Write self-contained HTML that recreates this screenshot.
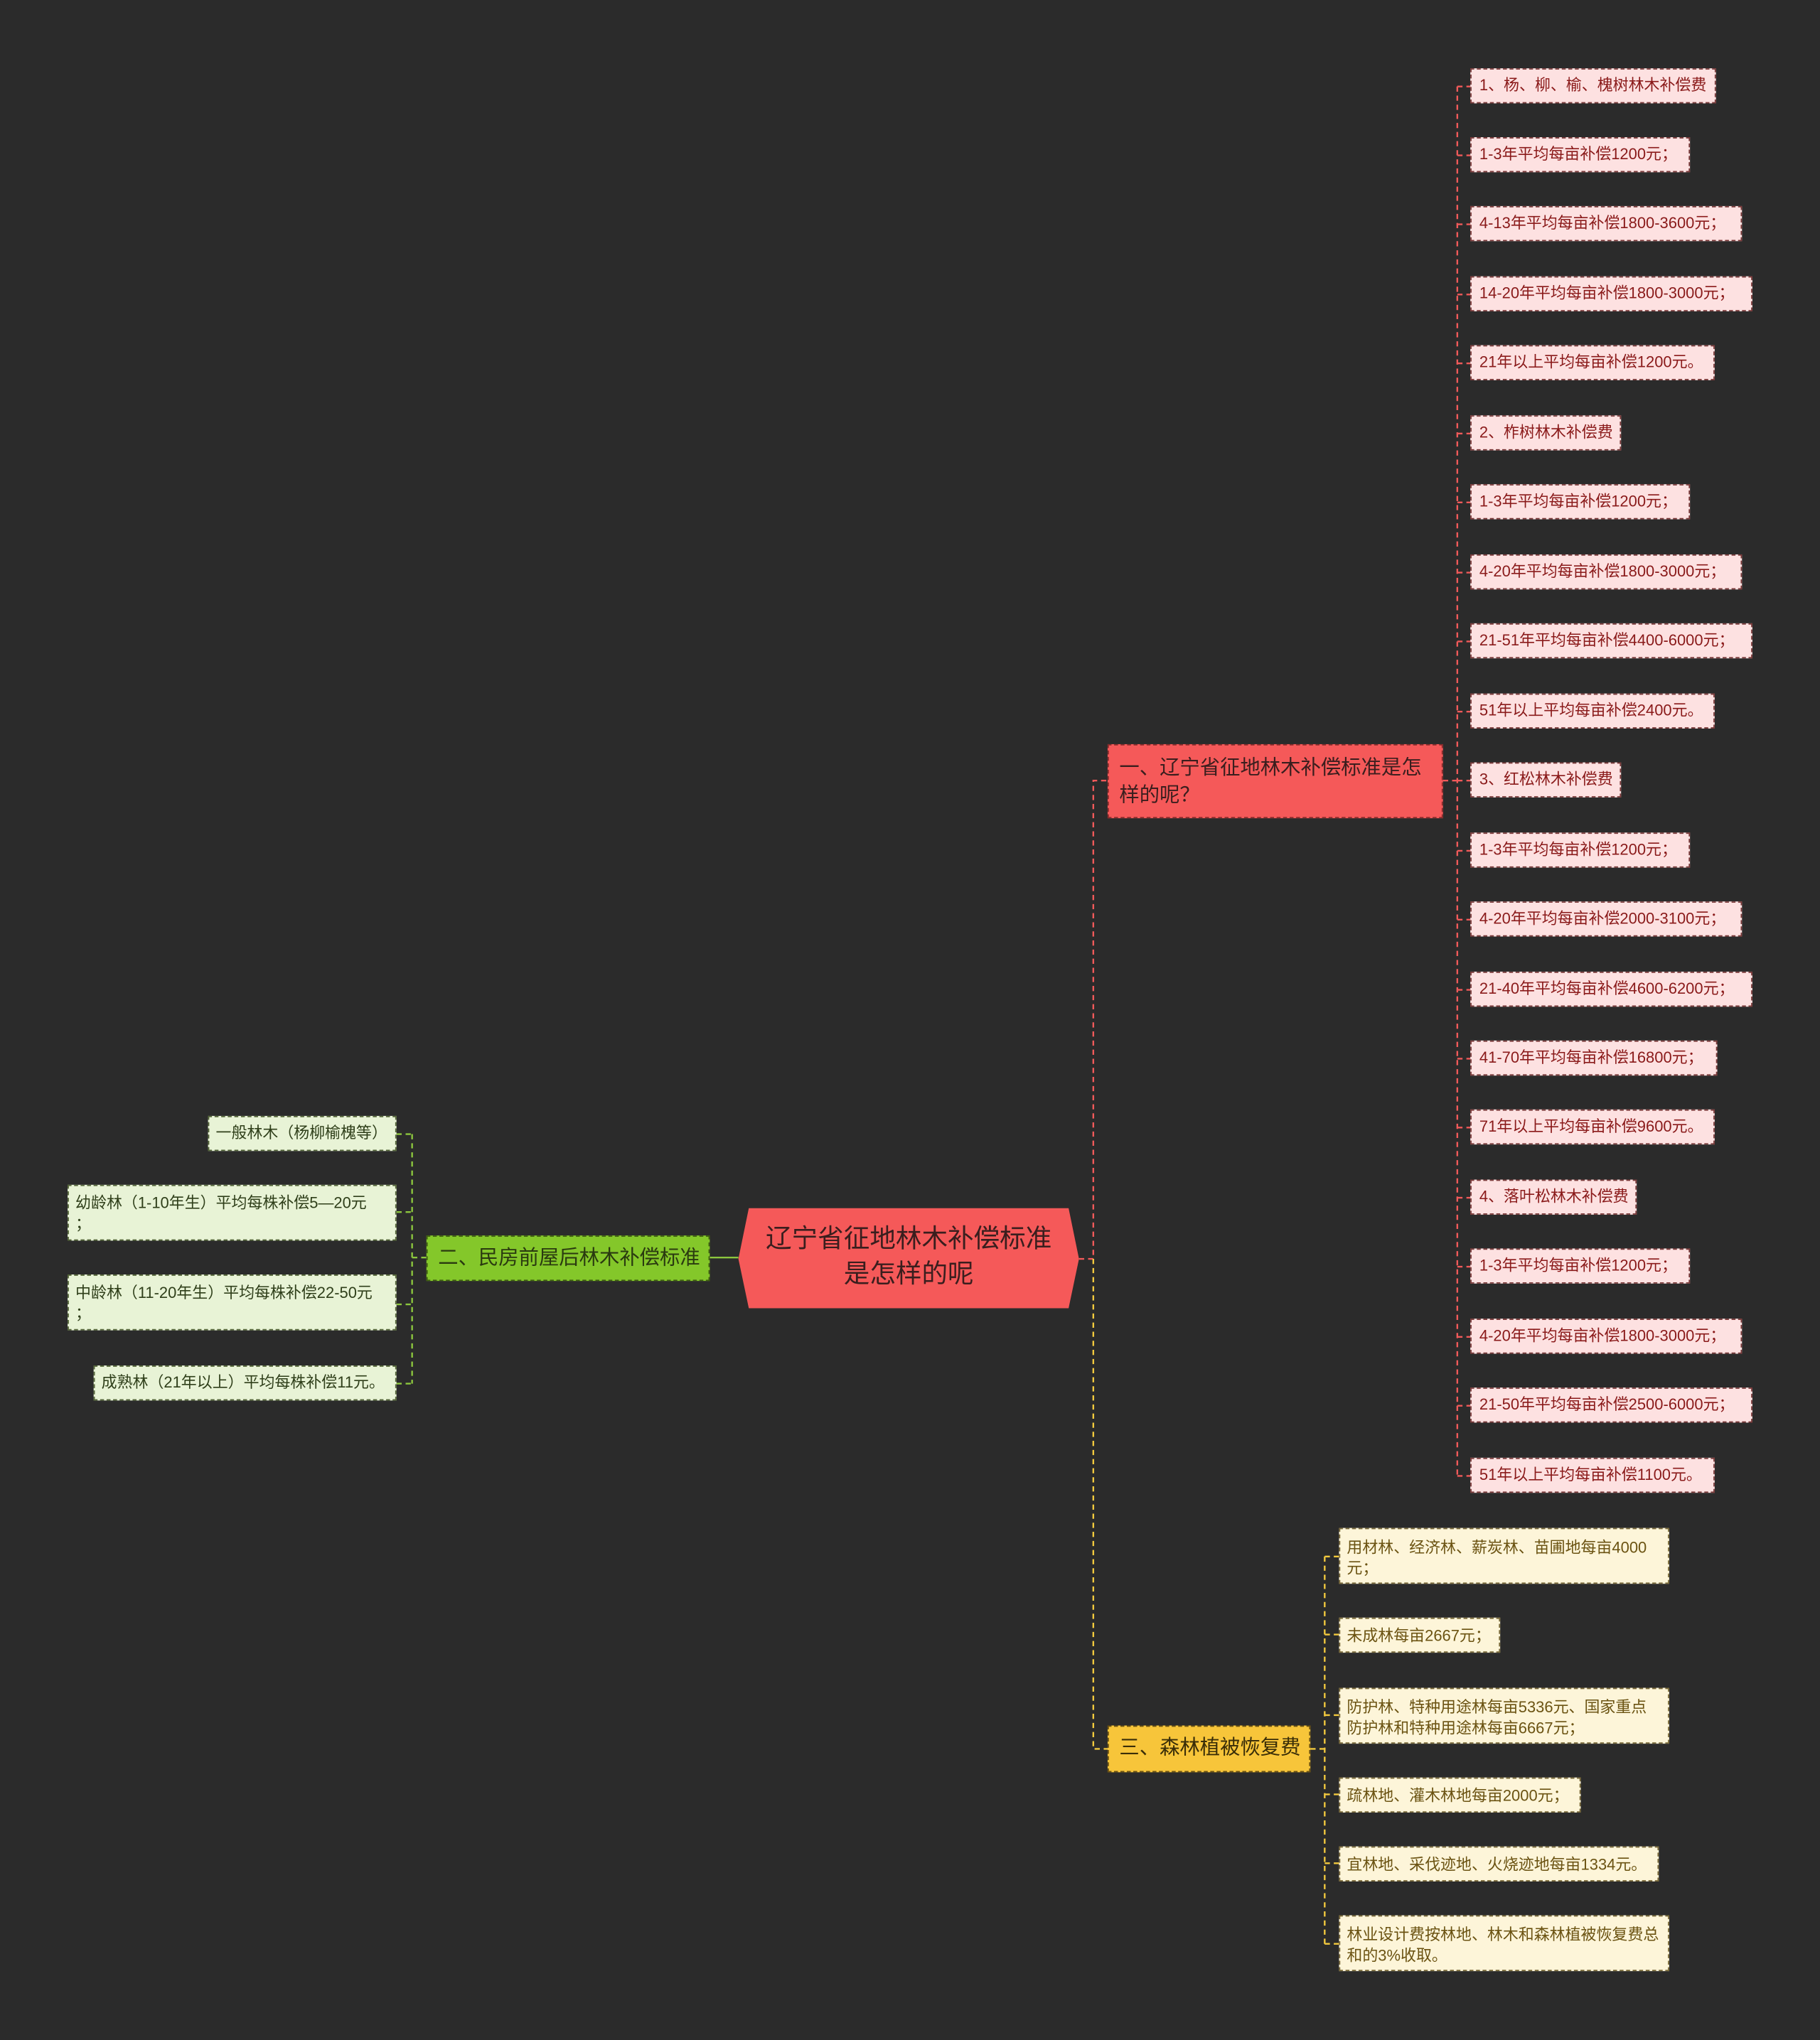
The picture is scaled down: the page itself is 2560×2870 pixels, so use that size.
<!DOCTYPE html>
<html><head><meta charset="utf-8"><style>
html,body{margin:0;padding:0;background:#2b2b2b;}
body{width:2560px;height:2868px;overflow:hidden;}
#c{position:absolute;left:0;top:1px;width:1400px;height:1569px;transform:scale(1.828571);transform-origin:0 0;font-family:"Liberation Sans","Noto Sans CJK SC",sans-serif;}
.n{position:absolute;box-sizing:border-box;white-space:nowrap;overflow:hidden;}
.r{background:#fde1e1;border:1px dashed #7a3a3a;color:#8a1a1a;font-size:12px;height:27px;line-height:25px;padding-left:6px;}
.y{background:#fdf5d9;border:1px dashed #7a6a3a;color:#6b5312;font-size:12px;line-height:16px;padding:6px 5px;}
.g{background:#e8f3d6;border:1px dashed #55663a;color:#2f3f1a;font-size:12px;line-height:16px;padding:5px 5px;}
svg{position:absolute;left:0;top:0;}
</style></head><body><div id="c">
<svg width="1400" height="1569" fill="none">
<g stroke="#f05a5a" stroke-width="1.3" stroke-dasharray="4,3">
<path d="M830 968 H841 V600 H852"/>
<path d="M1110 600 H1121"/>
<path d="M1121 66 V1135"/>
<path d="M1121 66H1131M1121 119H1131M1121 172H1131M1121 226H1131M1121 279H1131M1121 333H1131M1121 386H1131M1121 440H1131M1121 493H1131M1121 547H1131M1121 600H1131M1121 654H1131M1121 707H1131M1121 761H1131M1121 814H1131M1121 867H1131M1121 921H1131M1121 974H1131M1121 1028H1131M1121 1081H1131M1121 1135H1131"/>
</g>
<g stroke="#f2c93e" stroke-width="1.3" stroke-dasharray="4,3">
<path d="M841 968 V1345 H852"/>
<path d="M1008 1345 H1019"/>
<path d="M1019 1197 V1495"/>
<path d="M1019 1197H1030M1019 1257H1030M1019 1319H1030M1019 1380H1030M1019 1433H1030M1019 1495H1030"/>
</g>
<g stroke="#8cc63e" stroke-width="1.3" stroke-dasharray="4,3">
<path d="M546 967 H568" stroke-dasharray="none"/>
<path d="M317 967 H328"/>
<path d="M317 872 V1064"/>
<path d="M305 872H317M305 932H317M305 1003H317M305 1064H317"/>
</g>
<polygon points="576,929 822,929 830,968 822,1006 576,1006 568,968" fill="#f55959"/>
</svg>
<div class="n" style="left:568px;top:940px;width:262px;text-align:center;font-size:20px;line-height:27px;color:#3a1e1e;white-space:normal;padding:0 14px;">辽宁省征地林木补偿标准是怎样的呢</div>

<div class="n" style="left:852px;top:572px;width:258px;height:57px;background:#f55959;border:1px dashed #8a2a2a;color:#3a1e1e;font-size:15.5px;line-height:21px;padding:7px 8px;white-space:normal;">一、辽宁省征地林木补偿标准是怎样的呢？</div>
<div class="n" style="left:328px;top:950px;width:218px;height:35px;background:#84c72a;border:1px dashed #3f5f10;color:#2a3a10;font-size:15.5px;line-height:33px;padding-left:8px;">二、民房前屋后林木补偿标准</div>
<div class="n" style="left:852px;top:1327px;width:156px;height:36px;background:#f7c53a;border:1px dashed #6a5010;color:#3a2e08;font-size:15.5px;line-height:34px;padding-left:8px;">三、森林植被恢复费</div>

<div class="n r" style="left:1131px;top:52px;width:189px">1、杨、柳、榆、槐树林木补偿费</div>
<div class="n r" style="left:1131px;top:105px;width:169px">1-3年平均每亩补偿1200元；</div>
<div class="n r" style="left:1131px;top:158px;width:209px">4-13年平均每亩补偿1800-3600元；</div>
<div class="n r" style="left:1131px;top:212px;width:217px">14-20年平均每亩补偿1800-3000元；</div>
<div class="n r" style="left:1131px;top:265px;width:188px">21年以上平均每亩补偿1200元。</div>
<div class="n r" style="left:1131px;top:319px;width:116px">2、柞树林木补偿费</div>
<div class="n r" style="left:1131px;top:372px;width:169px">1-3年平均每亩补偿1200元；</div>
<div class="n r" style="left:1131px;top:426px;width:209px">4-20年平均每亩补偿1800-3000元；</div>
<div class="n r" style="left:1131px;top:479px;width:217px">21-51年平均每亩补偿4400-6000元；</div>
<div class="n r" style="left:1131px;top:533px;width:188px">51年以上平均每亩补偿2400元。</div>
<div class="n r" style="left:1131px;top:586px;width:116px">3、红松林木补偿费</div>
<div class="n r" style="left:1131px;top:640px;width:169px">1-3年平均每亩补偿1200元；</div>
<div class="n r" style="left:1131px;top:693px;width:209px">4-20年平均每亩补偿2000-3100元；</div>
<div class="n r" style="left:1131px;top:747px;width:217px">21-40年平均每亩补偿4600-6200元；</div>
<div class="n r" style="left:1131px;top:800px;width:190px">41-70年平均每亩补偿16800元；</div>
<div class="n r" style="left:1131px;top:853px;width:188px">71年以上平均每亩补偿9600元。</div>
<div class="n r" style="left:1131px;top:907px;width:128px">4、落叶松林木补偿费</div>
<div class="n r" style="left:1131px;top:960px;width:169px">1-3年平均每亩补偿1200元；</div>
<div class="n r" style="left:1131px;top:1014px;width:209px">4-20年平均每亩补偿1800-3000元；</div>
<div class="n r" style="left:1131px;top:1067px;width:217px">21-50年平均每亩补偿2500-6000元；</div>
<div class="n r" style="left:1131px;top:1121px;width:188px">51年以上平均每亩补偿1100元。</div>

<div class="n y" style="left:1030px;top:1175px;width:254px;height:43px">用材林、经济林、薪炭林、苗圃地每亩4000<br>元；</div>
<div class="n y" style="left:1030px;top:1244px;width:124px;height:27px;line-height:15px">未成林每亩2667元；</div>
<div class="n y" style="left:1030px;top:1298px;width:254px;height:43px">防护林、特种用途林每亩5336元、国家重点<br>防护林和特种用途林每亩6667元；</div>
<div class="n y" style="left:1030px;top:1367px;width:186px;height:27px;line-height:15px">疏林地、灌木林地每亩2000元；</div>
<div class="n y" style="left:1030px;top:1420px;width:246px;height:27px;line-height:15px">宜林地、采伐迹地、火烧迹地每亩1334元。</div>
<div class="n y" style="left:1030px;top:1473px;width:254px;height:43px">林业设计费按林地、林木和森林植被恢复费总<br>和的3%收取。</div>

<div class="n g" style="left:160px;top:858px;width:145px;height:27px;line-height:15px">一般林木（杨柳榆槐等）</div>
<div class="n g" style="left:52px;top:911px;width:253px;height:43px">幼龄林（1-10年生）平均每株补偿5—20元<br>；</div>
<div class="n g" style="left:52px;top:980px;width:253px;height:43px">中龄林（11-20年生）平均每株补偿22-50元<br>；</div>
<div class="n g" style="left:72px;top:1050px;width:233px;height:27px;line-height:15px">成熟林（21年以上）平均每株补偿11元。</div>
</div></body></html>
